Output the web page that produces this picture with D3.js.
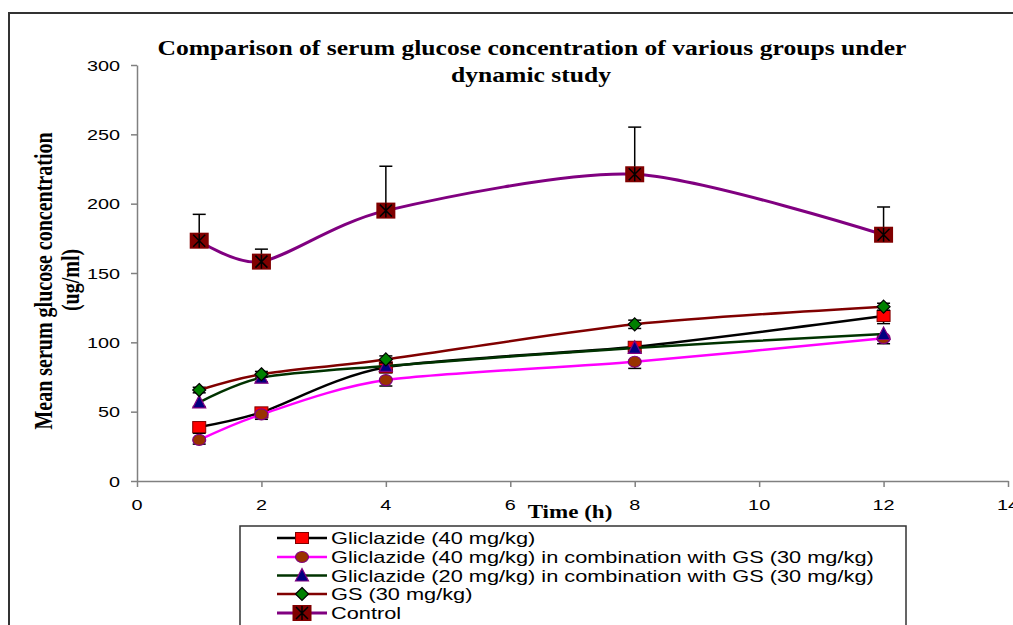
<!DOCTYPE html>
<html>
<head>
<meta charset="utf-8">
<script src="https://cdn.jsdelivr.net/npm/d3@7"></script>
<style>
  html, body { margin: 0; padding: 0; background: #fff; }
  svg { display: block; }
</style>
</head>
<body>
<svg id="chart" width="1013" height="625"></svg>
<script>
// data
const timePoints = [1, 2, 4, 8, 12];
const xTicks = [0, 2, 4, 6, 8, 10, 12, 14];
const yTicks = [0, 50, 100, 150, 200, 250, 300];

const seriesNames = [
  'Gliclazide (40 mg/kg)',
  'Gliclazide (40 mg/kg) in combination with GS (30 mg/kg)',
  'Gliclazide (20 mg/kg) in combination with GS (30 mg/kg)',
  'GS (30 mg/kg)',
  'Control'
];

const gliclazide40 = [38.9, 49.5, 82, 96.8, 119];
const gliclazide40Err = [4.5, 3, 4, 4, 5.5];
const gliclazide40GS = [29.6, 48, 72.8, 86, 103];
const gliclazide40GSErr = [3, 3.5, 4.3, 4.8, 4];
const gliclazide20GS = [56.7, 74.5, 83, 96, 106];
const gliclazide20GSErr = [3, 3, 3, 3, 3];
const gs30 = [65.6, 77, 87.7, 113, 125.7];
const gs30Err = [2, 2, 2.5, 3, 2.5];
const control = [173.3, 158.2, 195, 221.2, 177.6];
const controlErr = [19, 9, 32, 34, 20];

const SX = 1.28; // the picture is stretched sideways, text too
const SANS = '"Liberation Sans", Arial, sans-serif';
const SERIF = '"Liberation Serif", "Times New Roman", serif';

const series = [
  {name: seriesNames[0], values: gliclazide40, err: gliclazide40Err, dir: 'minus',
   line: '#000000', lw: 2.5, marker: 'square', fill: '#ff0000', stroke: '#800000'},
  {name: seriesNames[1], values: gliclazide40GS, err: gliclazide40GSErr, dir: 'minus',
   line: '#ff00ff', lw: 2.5, marker: 'circle', fill: '#993300', stroke: '#800080'},
  {name: seriesNames[2], values: gliclazide20GS, err: gliclazide20GSErr, dir: 'minus',
   line: '#003300', lw: 2.5, marker: 'triangle', fill: '#000080', stroke: '#800080'},
  {name: seriesNames[3], values: gs30, err: gs30Err, dir: 'both',
   line: '#800000', lw: 2.5, marker: 'diamond', fill: '#008000', stroke: '#000000'},
  {name: seriesNames[4], values: control, err: controlErr, dir: 'plus',
   line: '#800080', lw: 3, marker: 'star', fill: '#800000', stroke: '#000000'}
];

const svg = d3.select('#chart');

const x = d3.scaleLinear().domain([0, 14]).range([137, 1008]);
const y = d3.scaleLinear().domain([0, 300]).range([481, 65]);

// outer frame
svg.append('rect')
  .attr('x', 9).attr('y', 13)
  .attr('width', 1100).attr('height', 700)
  .attr('fill', 'none').attr('stroke', '#333').attr('stroke-width', 2);

function addText(parent, str, tx, ty, opts) {
  opts = opts || {};
  const t = parent.append('text')
    .attr('transform', `translate(${tx},${ty}) scale(${SX},1)` + (opts.rotate ? ` rotate(${opts.rotate})` : ''))
    .attr('text-anchor', opts.anchor || 'start')
    .attr('font-family', opts.family || SANS)
    .attr('font-size', opts.size || 15)
    .attr('font-weight', opts.weight || 'normal')
    .attr('fill', '#000')
    .text(str);
  return t;
}

// title
const titleG = svg.append('g');
addText(titleG, 'Comparison of serum glucose concentration of various groups under', 532, 55,
  {anchor: 'middle', family: SERIF, size: 20, weight: 'bold'});
addText(titleG, 'dynamic study', 531, 82,
  {anchor: 'middle', family: SERIF, size: 20, weight: 'bold'});

// axes
const axisColor = '#808080';

const yAxis = svg.append('g')
  .attr('transform', `translate(${x(0)},0)`)
  .call(d3.axisLeft(y).tickValues(yTicks).tickSize(6).tickSizeOuter(0).tickPadding(4));

const xAxis = svg.append('g')
  .attr('transform', `translate(0,${y(0)})`)
  .call(d3.axisBottom(x).tickValues(xTicks).tickSize(6).tickSizeOuter(0).tickPadding(4));

[yAxis, xAxis].forEach(a => {
  a.select('.domain').attr('stroke', axisColor).attr('stroke-width', 1.5);
  a.selectAll('.tick line').attr('stroke', axisColor).attr('stroke-width', 1.5);
  a.selectAll('.tick text').remove();
});

yTicks.forEach(v => {
  addText(svg, String(v), 120, y(v) + 5.5, {anchor: 'end', size: 15.5});
});
xTicks.forEach(v => {
  addText(svg, String(v), x(v), 510, {anchor: 'middle', size: 15.5});
});

// axis titles
addText(svg, 'Time (h)', 570, 518, {anchor: 'middle', family: SERIF, size: 18, weight: 'bold'});
addText(svg, 'Mean serum glucose concentration', 52, 281,
  {anchor: 'middle', family: SERIF, size: 20, weight: 'bold', rotate: -90});
addText(svg, '(ug/ml)', 79, 280,
  {anchor: 'middle', family: SERIF, size: 20, weight: 'bold', rotate: -90});

// markers
function drawMarker(g, s, cx, cy, big) {
  const w = big ? 9.5 : 6.5, h = big ? 8 : 5.5;
  if (s.marker === 'square' || s.marker === 'star') {
    g.append('rect')
      .attr('x', cx - w).attr('y', cy - h)
      .attr('width', 2 * w).attr('height', 2 * h)
      .attr('fill', s.fill)
      .attr('stroke', s.marker === 'star' ? 'none' : s.stroke)
      .attr('stroke-width', 1);
    if (s.marker === 'star') {
      const r = 6;
      g.append('path')
        .attr('d', `M${cx - r},${cy - r}L${cx + r},${cy + r}M${cx - r},${cy + r}L${cx + r},${cy - r}M${cx},${cy - r - 1}L${cx},${cy + r + 1}`)
        .attr('stroke', '#000').attr('stroke-width', 1.5).attr('fill', 'none');
    }
  } else if (s.marker === 'circle') {
    g.append('ellipse')
      .attr('cx', cx).attr('cy', cy).attr('rx', w).attr('ry', h)
      .attr('fill', s.fill).attr('stroke', s.stroke).attr('stroke-width', 1.2);
  } else if (s.marker === 'triangle') {
    g.append('path')
      .attr('d', `M${cx},${cy - h - 1.5}L${cx + w},${cy + h}L${cx - w},${cy + h}Z`)
      .attr('fill', s.fill).attr('stroke', s.stroke).attr('stroke-width', 1.2);
  } else if (s.marker === 'diamond') {
    g.append('path')
      .attr('d', `M${cx},${cy - h - 1}L${cx + w},${cy}L${cx},${cy + h + 1}L${cx - w},${cy}Z`)
      .attr('fill', s.fill).attr('stroke', s.stroke).attr('stroke-width', 1.2);
  }
}

const line = d3.line()
  .x(d => x(d[0]))
  .y(d => y(d[1]))
  .curve(d3.curveCardinal.tension(0.2));

const plot = svg.append('g').attr('class', 'plot');

series.forEach(s => {
  const g = plot.append('g').attr('class', 'series');
  const pts = timePoints.map((t, i) => [t, s.values[i], s.err[i]]);

  // error bars
  pts.forEach(p => {
    const px = x(p[0]);
    const lo = s.dir === 'plus' ? p[1] : p[1] - p[2];
    const hi = s.dir === 'minus' ? p[1] : p[1] + p[2];
    g.append('line')
      .attr('x1', px).attr('x2', px)
      .attr('y1', y(lo)).attr('y2', y(hi))
      .attr('stroke', '#000').attr('stroke-width', 1.5);
    const caps = [];
    if (s.dir !== 'plus') caps.push(lo);
    if (s.dir !== 'minus') caps.push(hi);
    caps.forEach(c => {
      g.append('line')
        .attr('x1', px - 6.5).attr('x2', px + 6.5)
        .attr('y1', y(c)).attr('y2', y(c))
        .attr('stroke', '#000').attr('stroke-width', 1.5);
    });
  });

  g.append('path')
    .datum(pts)
    .attr('d', line)
    .attr('fill', 'none')
    .attr('stroke', s.line)
    .attr('stroke-width', s.lw);

  pts.forEach(p => drawMarker(g, s, x(p[0]), y(p[1]), s.marker === 'star'));
});

// legend
const legend = svg.append('g').attr('class', 'legend');
legend.append('rect')
  .attr('x', 240).attr('y', 526)
  .attr('width', 666).attr('height', 200)
  .attr('fill', '#fff').attr('stroke', '#333').attr('stroke-width', 1.5);

const legendBaselines = [544, 563, 581.5, 600, 619];
series.forEach((s, i) => {
  const ly = legendBaselines[i] - 6;
  legend.append('line')
    .attr('x1', 277).attr('x2', 327)
    .attr('y1', ly).attr('y2', ly)
    .attr('stroke', s.line).attr('stroke-width', s.lw);
  drawMarker(legend, s, 302, ly, s.marker === 'star');
  addText(legend, s.name, 331, legendBaselines[i], {size: 17});
});
</script>
</body>
</html>
